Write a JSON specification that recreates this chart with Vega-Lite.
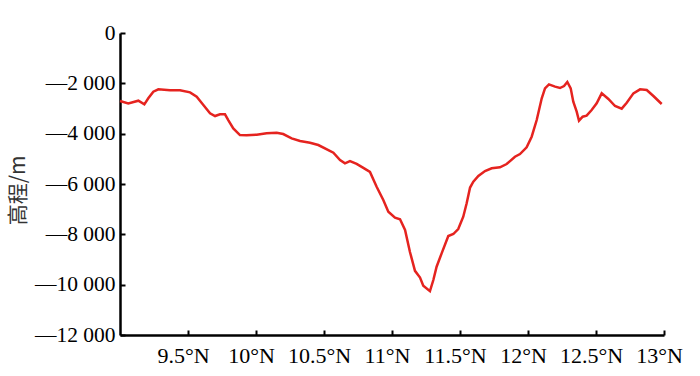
{
  "$schema": "https://vega.github.io/schema/vega-lite/v6.json",
  "autosize": "none",
  "width": 544,
  "height": 302,
  "padding": {"left": 120, "top": 33, "right": 36, "bottom": 41},
  "background": "white",
  "config": {"view": {"stroke": null}},
  "data": {"values": [
    {"lat": 9.0, "elev": -2700},
    {"lat": 9.061, "elev": -2795},
    {"lat": 9.135, "elev": -2690},
    {"lat": 9.179, "elev": -2835},
    {"lat": 9.208, "elev": -2596},
    {"lat": 9.245, "elev": -2332},
    {"lat": 9.282, "elev": -2238},
    {"lat": 9.368, "elev": -2278},
    {"lat": 9.441, "elev": -2278},
    {"lat": 9.515, "elev": -2358},
    {"lat": 9.564, "elev": -2530},
    {"lat": 9.613, "elev": -2861},
    {"lat": 9.662, "elev": -3193},
    {"lat": 9.699, "elev": -3299},
    {"lat": 9.735, "elev": -3232},
    {"lat": 9.772, "elev": -3232},
    {"lat": 9.796, "elev": -3458},
    {"lat": 9.833, "elev": -3789},
    {"lat": 9.882, "elev": -4054},
    {"lat": 9.931, "elev": -4067},
    {"lat": 10.005, "elev": -4040},
    {"lat": 10.078, "elev": -3988},
    {"lat": 10.152, "elev": -3961},
    {"lat": 10.2, "elev": -4014},
    {"lat": 10.262, "elev": -4186},
    {"lat": 10.324, "elev": -4292},
    {"lat": 10.397, "elev": -4358},
    {"lat": 10.458, "elev": -4451},
    {"lat": 10.532, "elev": -4650},
    {"lat": 10.569, "elev": -4756},
    {"lat": 10.618, "elev": -5047},
    {"lat": 10.654, "elev": -5180},
    {"lat": 10.691, "elev": -5090},
    {"lat": 10.74, "elev": -5200},
    {"lat": 10.78, "elev": -5330},
    {"lat": 10.838, "elev": -5520},
    {"lat": 10.887, "elev": -6108},
    {"lat": 10.936, "elev": -6637},
    {"lat": 10.973, "elev": -7101},
    {"lat": 11.022, "elev": -7340},
    {"lat": 11.059, "elev": -7404},
    {"lat": 11.096, "elev": -7829},
    {"lat": 11.132, "elev": -8700},
    {"lat": 11.169, "elev": -9450},
    {"lat": 11.206, "elev": -9720},
    {"lat": 11.23, "elev": -10040},
    {"lat": 11.279, "elev": -10260},
    {"lat": 11.304, "elev": -9816},
    {"lat": 11.328, "elev": -9287},
    {"lat": 11.365, "elev": -8755},
    {"lat": 11.414, "elev": -8067},
    {"lat": 11.451, "elev": -7988},
    {"lat": 11.487, "elev": -7789},
    {"lat": 11.524, "elev": -7300},
    {"lat": 11.549, "elev": -6768},
    {"lat": 11.574, "elev": -6140},
    {"lat": 11.598, "elev": -5907},
    {"lat": 11.635, "elev": -5683},
    {"lat": 11.684, "elev": -5484},
    {"lat": 11.733, "elev": -5378},
    {"lat": 11.794, "elev": -5339},
    {"lat": 11.843, "elev": -5206},
    {"lat": 11.904, "elev": -4916},
    {"lat": 11.941, "elev": -4809},
    {"lat": 11.99, "elev": -4544},
    {"lat": 12.027, "elev": -4120},
    {"lat": 12.064, "elev": -3458},
    {"lat": 12.101, "elev": -2596},
    {"lat": 12.125, "elev": -2199},
    {"lat": 12.154, "elev": -2040},
    {"lat": 12.199, "elev": -2133},
    {"lat": 12.235, "elev": -2186},
    {"lat": 12.265, "elev": -2106},
    {"lat": 12.289, "elev": -1947},
    {"lat": 12.314, "elev": -2199},
    {"lat": 12.333, "elev": -2729},
    {"lat": 12.358, "elev": -3126},
    {"lat": 12.375, "elev": -3485},
    {"lat": 12.402, "elev": -3325},
    {"lat": 12.431, "elev": -3286},
    {"lat": 12.468, "elev": -3060},
    {"lat": 12.505, "elev": -2795},
    {"lat": 12.542, "elev": -2398},
    {"lat": 12.591, "elev": -2623},
    {"lat": 12.64, "elev": -2901},
    {"lat": 12.689, "elev": -3007},
    {"lat": 12.726, "elev": -2769},
    {"lat": 12.775, "elev": -2398},
    {"lat": 12.824, "elev": -2238},
    {"lat": 12.873, "elev": -2265},
    {"lat": 12.922, "elev": -2504},
    {"lat": 12.983, "elev": -2822}
  ]},
  "mark": {"type": "line", "color": "#e5231f", "strokeWidth": 2.5, "interpolate": "linear"},
  "encoding": {
    "x": {
      "field": "lat",
      "type": "quantitative",
      "scale": {"domain": [9, 13], "nice": false, "zero": false},
      "axis": {
        "title": null,
        "grid": false,
        "values": [9.5, 10, 10.5, 11, 11.5, 12, 12.5, 13],
        "labelExpr": "datum.value + '°N'",
        "labelFont": "Liberation Serif",
        "labelFontSize": 22,
        "labelColor": "black",
        "labelPadding": 15,
        "labelOffset": -5,
        "labelFlush": false,
        "labelOverlap": false,
        "domainColor": "black",
        "domainWidth": 2.5,
        "tickColor": "black",
        "tickWidth": 2,
        "tickSize": -5
      }
    },
    "y": {
      "field": "elev",
      "type": "quantitative",
      "scale": {"domain": [-12000, 0], "nice": false},
      "axis": {
        "title": "高程/m",
        "titleFont": "Noto Sans CJK SC",
        "titleFontSize": 21,
        "titleFontWeight": "normal",
        "titleColor": "#333",
        "titleAngle": -90,
        "titleX": -102,
        "titleY": 157,
        "titleAlign": "center",
        "titleBaseline": "middle",
        "grid": false,
        "values": [0, -2000, -4000, -6000, -8000, -10000, -12000],
        "labelExpr": "datum.value == 0 ? '0' : '—' + replace(format(abs(datum.value), ',d'), ',', ' ')",
        "labelFont": "Liberation Serif",
        "labelFontSize": 21.5,
        "labelColor": "black",
        "labelPadding": 10,
        "labelFlush": false,
        "labelOverlap": false,
        "domainColor": "black",
        "domainWidth": 2.5,
        "tickColor": "black",
        "tickWidth": 2,
        "tickSize": -5
      }
    }
  }
}
